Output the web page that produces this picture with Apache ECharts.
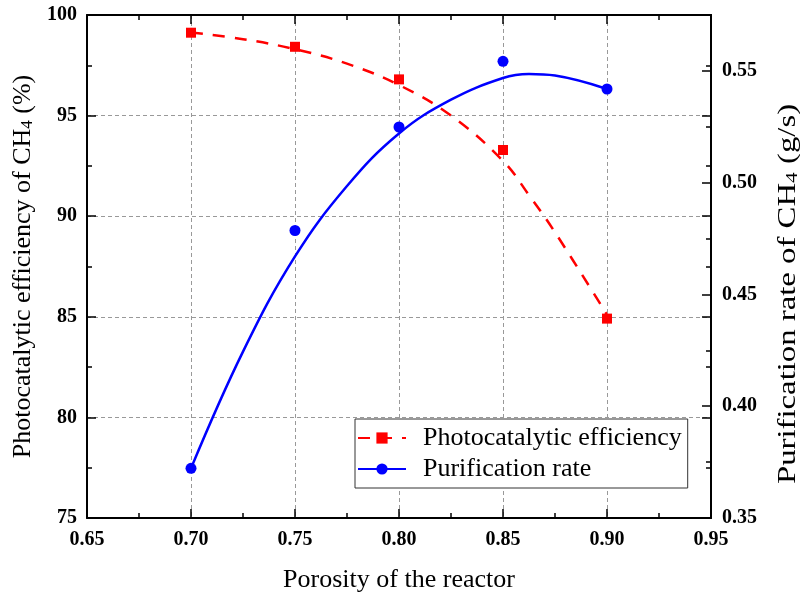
<!DOCTYPE html>
<html>
<head>
<meta charset="utf-8">
<script src="https://cdn.jsdelivr.net/npm/echarts@6/dist/echarts.min.js"></script>
<style>html,body{margin:0;padding:0;background:#fff}#c{width:800px;height:594px}</style>
</head>
<body>
<div id="c"></div>
<script>
// Measured data points
const porosity = [0.70, 0.75, 0.80, 0.85, 0.90];
const efficiency = [99.12, 98.42, 96.80, 93.29, 84.91];
const purification = [0.3722, 0.4786, 0.5249, 0.5543, 0.5419];
// Fitted curves
const fitX = [0.70, 0.725, 0.75, 0.775, 0.80, 0.825, 0.85, 0.8625, 0.875, 0.90];
const efficiencyFit = [99.13, 98.80, 98.30, 97.58, 96.52, 95.00, 92.75, 91.05, 89.2, 85.1];
const purificationFit = [0.3722, 0.4244, 0.4670, 0.4985, 0.5220, 0.5371, 0.5468, 0.5486, 0.5479, 0.5419];
// Tick settings
const xTicks = {min: 0.65, max: 0.95, interval: 0.05};
const leftTicks = {min: 75, max: 100, interval: 5};
const rightTicks = {min: 0.35, max: 0.575, interval: 0.05};
// Texts
const xName = 'Porosity of the reactor';
const leftName = '{a|Photocatalytic efficiency of CH}{s|4}{a| (%)}';
const rightName = '{a|Purification rate of CH}{s|4}{a| (g/s)}';
const legendNames = ['Photocatalytic efficiency', 'Purification rate'];

const FONT = "'Liberation Serif', 'Times New Roman', serif";
const pair = (xs, ys) => xs.map((x, i) => [x, ys[i]]);

const axisLineStyle = {show: true, lineStyle: {color: '#000', width: 2}};
const tickIn = {show: true, inside: true, length: 9, lineStyle: {color: '#000', width: 1.5}};
const minorIn = {show: true, splitNumber: 2, length: 5, lineStyle: {color: '#000', width: 1.5}};
const gridDash = {show: true, lineStyle: {color: '#999', type: [4, 3], width: 1}};
const labelStyle = {fontFamily: FONT, fontWeight: 'bold', fontSize: 20, color: '#000'};
const nameRich = {
  a: {fontFamily: FONT, fontSize: 26, lineHeight: 28, color: '#000', verticalAlign: 'bottom'},
  s: {fontFamily: FONT, fontSize: 17, lineHeight: 16, color: '#000', verticalAlign: 'bottom'}
};

const chart = echarts.init(document.getElementById('c'), null, {renderer: 'canvas'});
chart.setOption({
  animation: false,
  backgroundColor: '#fff',
  grid: {left: 87, right: 89, top: 15, bottom: 76, containLabel: false, outerBoundsMode: 'none'},
  legend: {
    orient: 'vertical', left: 355, top: 419,
    backgroundColor: '#fff', borderColor: '#333', borderWidth: 1, borderRadius: 0,
    padding: [6, 6, 6, 2], itemGap: 5, itemWidth: 48, itemHeight: 14,
    textStyle: {fontFamily: FONT, fontSize: 26, color: '#000', padding: [0, 0, 0, 12]},
    data: legendNames
  },
  graphic: [{
    type: 'text', x: 787, y: 294, rotation: Math.PI / 2, scaleX: 1.26, scaleY: 1,
    style: {text: rightName, rich: nameRich, align: 'center', verticalAlign: 'middle',
            fontFamily: FONT, fontSize: 26, fill: '#000'}
  }],
  xAxis: [{
    type: 'value', position: 'bottom', min: xTicks.min, max: xTicks.max, interval: xTicks.interval,
    name: xName, nameLocation: 'middle', nameGap: 49,
    nameTextStyle: {fontFamily: FONT, fontSize: 26, color: '#000'},
    axisLine: axisLineStyle, axisTick: tickIn, minorTick: minorIn, splitLine: gridDash,
    axisLabel: Object.assign({margin: 12, formatter: v => v.toFixed(2)}, labelStyle)
  }, {
    type: 'value', position: 'top', min: xTicks.min, max: xTicks.max, interval: xTicks.interval,
    axisLine: axisLineStyle, axisTick: tickIn, minorTick: minorIn, splitLine: {show: false},
    axisLabel: {show: false}
  }],
  yAxis: [{
    type: 'value', position: 'left', min: leftTicks.min, max: leftTicks.max, interval: leftTicks.interval,
    name: leftName, nameLocation: 'middle', nameGap: 51,
    nameTextStyle: {fontFamily: FONT, fontSize: 26, color: '#000', rich: nameRich},
    axisLine: axisLineStyle, axisTick: tickIn, minorTick: minorIn, splitLine: gridDash,
    axisLabel: Object.assign({margin: 10}, labelStyle)
  }, {
    type: 'value', position: 'right', min: rightTicks.min, max: rightTicks.max, interval: rightTicks.interval,
    axisLine: axisLineStyle, axisTick: tickIn, minorTick: minorIn, splitLine: {show: false},
    axisLabel: Object.assign({margin: 11, showMaxLabel: false, formatter: v => v.toFixed(2)}, labelStyle)
  }, {
    type: 'value', position: 'right', min: leftTicks.min, max: leftTicks.max, interval: leftTicks.interval,
    axisLine: axisLineStyle, axisTick: tickIn, minorTick: minorIn, splitLine: {show: false},
    axisLabel: {show: false}
  }],
  series: [{
    name: legendNames[0], type: 'line', xAxisIndex: 0, yAxisIndex: 0,
    data: pair(fitX, efficiencyFit), smooth: 0.4, showSymbol: false, symbol: 'rect', symbolSize: 10,
    lineStyle: {color: '#ff0000', width: 2.5, type: [12, 10]}, itemStyle: {color: '#ff0000'}, z: 2
  }, {
    name: legendNames[0], type: 'scatter', xAxisIndex: 0, yAxisIndex: 0,
    data: pair(porosity, efficiency), symbol: 'rect', symbolSize: 10,
    itemStyle: {color: '#ff0000', opacity: 1}, z: 4
  }, {
    name: legendNames[1], type: 'line', xAxisIndex: 0, yAxisIndex: 1,
    data: pair(fitX, purificationFit), smooth: 0.4, showSymbol: false, symbol: 'circle', symbolSize: 11,
    lineStyle: {color: '#0000ff', width: 2.5}, itemStyle: {color: '#0000ff'}, z: 3
  }, {
    name: legendNames[1], type: 'scatter', xAxisIndex: 0, yAxisIndex: 1,
    data: pair(porosity, purification), symbol: 'circle', symbolSize: 11,
    itemStyle: {color: '#0000ff', opacity: 1}, z: 5
  }]
});
</script>
</body>
</html>
